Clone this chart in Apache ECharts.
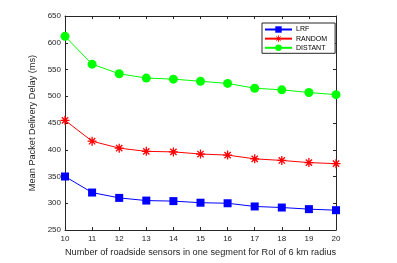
<!DOCTYPE html>
<html><head><meta charset="utf-8">
<script src="https://cdn.jsdelivr.net/npm/echarts@6/dist/echarts.min.js"></script>
<style>html,body{margin:0;padding:0;background:#fff}#c{width:397px;height:263px}</style>
</head><body><div id="c"></div>
<script>
var categories = [10, 11, 12, 13, 14, 15, 16, 17, 18, 19, 20];
var lrf = [350, 320, 310, 305, 304, 301, 300, 294, 292, 289, 287];
var random = [455, 416, 403, 397, 396, 392, 390, 383, 380, 376, 374];
var distant = [612, 560, 542, 534, 532, 528, 524, 515, 512, 507, 503];
var yTicks = [250, 300, 350, 400, 450, 500, 550, 600, 650];

function pairs(v){ return categories.map(function(x,i){ return [x, v[i]]; }); }
var chart = echarts.init(document.getElementById('c'), null, {renderer:'canvas'});
var font = 'Liberation Sans, Arial, sans-serif';
var axisCommon = {
  axisLine:{show:true, lineStyle:{color:'#262626', width:1}},
  axisTick:{show:true, inside:true, length:3, lineStyle:{color:'#262626'}},
  splitLine:{show:false}
};
var star = 'path://M0,-10L0,10M-10,0L10,0M-7,-7L7,7M-7,7L7,-7';
chart.setOption({
  animation:false,
  grid:{left:65, right:61, top:16, bottom:33},
  legend:{
    orient:'vertical', left:262, top:23, width:67,
    borderColor:'#262626', borderWidth:1, padding:[3,8,2,2],
    itemGap:2, itemWidth:27, itemHeight:8,
    textStyle:{fontFamily:font, fontSize:7, color:'#000', padding:[0,0,0,-1]},
    backgroundColor:'#fff',
    data:[
      {name:'LRF'},
      {name:'RANDOM', itemStyle:{color:'#ff0000', borderColor:'#ff0000', borderWidth:0.9}},
      {name:'DISTANT'}
    ]
  },
  xAxis:[
    Object.assign({type:'value', min:10, max:20, interval:1, position:'bottom',
      name:'Number of roadside sensors in one segment for RoI of 6 km radius',
      nameLocation:'middle', nameGap:15,
      nameTextStyle:{fontFamily:font, fontSize:9.2, color:'#262626'},
      axisLabel:{fontFamily:font, fontSize:8, color:'#262626', margin:5}}, axisCommon),
    Object.assign({type:'value', min:10, max:20, interval:1, position:'top',
      axisLabel:{show:false}}, axisCommon)
  ],
  yAxis:[
    Object.assign({type:'value', min:250, max:650, interval:50, position:'left',
      name:'Mean Packet Delivery Delay (ms)', nameLocation:'middle', nameGap:22,
      nameTextStyle:{fontFamily:font, fontSize:9.2, color:'#262626'},
      axisLabel:{fontFamily:font, fontSize:8, color:'#262626', margin:4,
        formatter:function(v){return yTicks.indexOf(v)>=0? String(v):'';}}}, axisCommon),
    Object.assign({type:'value', min:250, max:650, interval:50, position:'right',
      axisLabel:{show:false}}, axisCommon)
  ],
  series:[
    {name:'LRF', type:'line', data:pairs(lrf), symbol:'rect', symbolSize:8,
      lineStyle:{color:'#0000ff', width:1}, itemStyle:{color:'#0000ff'}},
    {name:'RANDOM', type:'line', data:pairs(random), symbol:star, symbolSize:9,
      lineStyle:{color:'#ff0000', width:1},
      itemStyle:{color:'#ff0000', borderColor:'#ff0000', borderWidth:1.3}},
    {name:'DISTANT', type:'line', data:pairs(distant), symbol:'circle', symbolSize:9,
      lineStyle:{color:'#00ff00', width:1}, itemStyle:{color:'#00ff00'}}
  ]
});
</script></body></html>
